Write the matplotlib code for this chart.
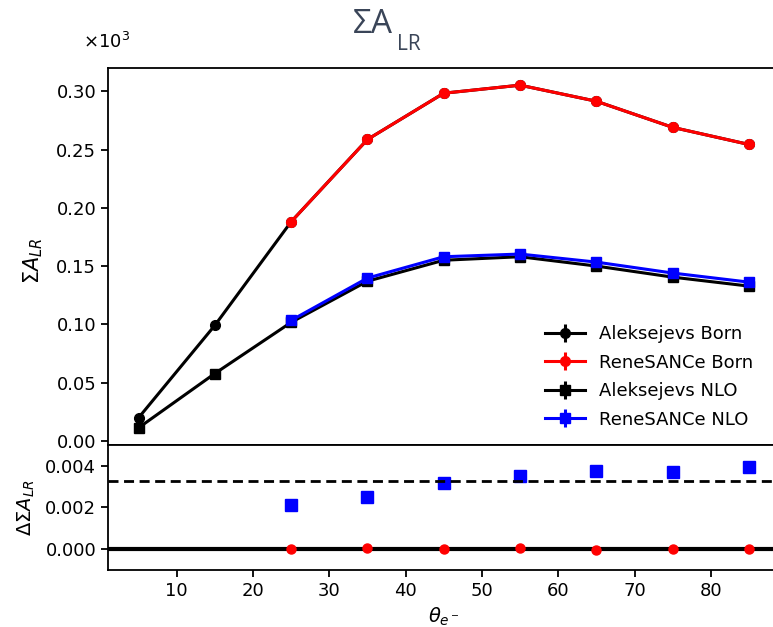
import numpy as np
import matplotlib
matplotlib.use("Agg")
import matplotlib.pyplot as plt

# angles (deg)
theta = [5, 15, 25, 35, 45, 55, 65, 75, 85]
theta_rs = [25, 35, 45, 55, 65, 75, 85]

# top panel, values as shown on the axis
alek_born = [0.0198, 0.0991, 0.1880, 0.2586, 0.2983, 0.3052, 0.2914, 0.2690, 0.2543]
rene_born = [0.1880, 0.2586, 0.2983, 0.3052, 0.2914, 0.2690, 0.2543]
alek_nlo = [0.0112, 0.0578, 0.1017, 0.1370, 0.1550, 0.1580, 0.1500, 0.1405, 0.1328]
rene_nlo = [0.1034, 0.1397, 0.1580, 0.1603, 0.1534, 0.1440, 0.1362]

# bottom panel, differences
d_born = [0.00000, 0.00005, 0.00002, 0.00007, -0.00003, 0.00000, 0.00002]
d_nlo = [0.00214, 0.00248, 0.00319, 0.00352, 0.00376, 0.00371, 0.00395]

fig = plt.figure(figsize=(7.73, 6.27), dpi=100)
ax = fig.add_axes([0.1397, 0.2903, 0.8687, 0.6012])
ax2 = fig.add_axes([0.1397, 0.0909, 0.8687, 0.1994], sharex=ax)

zeros9 = np.zeros(len(theta))
zeros7 = np.zeros(len(theta_rs))

ax.errorbar(theta, alek_born, yerr=zeros9, color='black', marker='o', ms=7, lw=2.2, elinewidth=2.2, label='Aleksejevs Born')
ax.errorbar(theta_rs, rene_born, yerr=zeros7, color='red', marker='o', ms=7, lw=2.2, elinewidth=2.2, label='ReneSANCe Born')
ax.errorbar(theta, alek_nlo, yerr=zeros9, color='black', marker='s', ms=7, lw=2.2, elinewidth=2.2, label='Aleksejevs NLO')
ax.errorbar(theta_rs, rene_nlo, yerr=zeros7, color='blue', marker='s', ms=7, lw=2.2, elinewidth=2.2, label='ReneSANCe NLO')

ax.set_xlim(1, 89)
ax.set_yticks([0.0, 0.05, 0.10, 0.15, 0.20, 0.25, 0.30])
ax.set_yticklabels(['0.00', '0.05', '0.10', '0.15', '0.20', '0.25', '0.30'])
ax.tick_params(axis='x', bottom=False, labelbottom=False)
ax.tick_params(labelsize=13, width=1.3, length=5)
ax.set_ylabel(r'$\Sigma A_{LR}$', fontsize=15)
ax.yaxis.set_label_coords(-0.094, 0.488)
ax.legend(loc='lower right', frameon=False, fontsize=13, handlelength=2.2, borderaxespad=0.5,
          labelspacing=0.58, handletextpad=0.8, bbox_to_anchor=(0.985, 0.0))

ax2.plot(theta_rs, d_nlo, 's', color='blue', ms=8)
ax2.plot(theta_rs, d_born, 'o', color='red', ms=6.5)
ax2.axhline(np.mean(d_nlo), color='black', ls='--', lw=2.0, dashes=(3.6, 2.0))
ax2.axhline(np.mean(d_born), color='black', ls='-', lw=3.0, zorder=1)
ax2.set_ylim(-0.001, 0.005)
ax2.set_yticks([0.0, 0.002, 0.004])
ax2.tick_params(labelsize=13, width=1.3, length=5)
ax2.set_ylabel(r'$\Delta\Sigma A_{LR}$', fontsize=14)
ax2.yaxis.set_label_coords(-0.106, 0.496)
ax2.set_xlabel(r'$\theta_{e^-}$', fontsize=14)

for a in (ax, ax2):
    for s in a.spines.values():
        s.set_linewidth(1.3)

fig.text(0.108, 0.9234, r'$\times10^3$', fontsize=13, va='baseline')
fig.text(0.4567, 0.9474, 'ΣA', fontsize=24, family='Open Sans', color='#3a4558', va='baseline')
fig.text(0.5136, 0.9203, 'LR', fontsize=15, family='Open Sans', color='#3a4558', va='baseline')

fig.savefig('out.png', dpi=100)
